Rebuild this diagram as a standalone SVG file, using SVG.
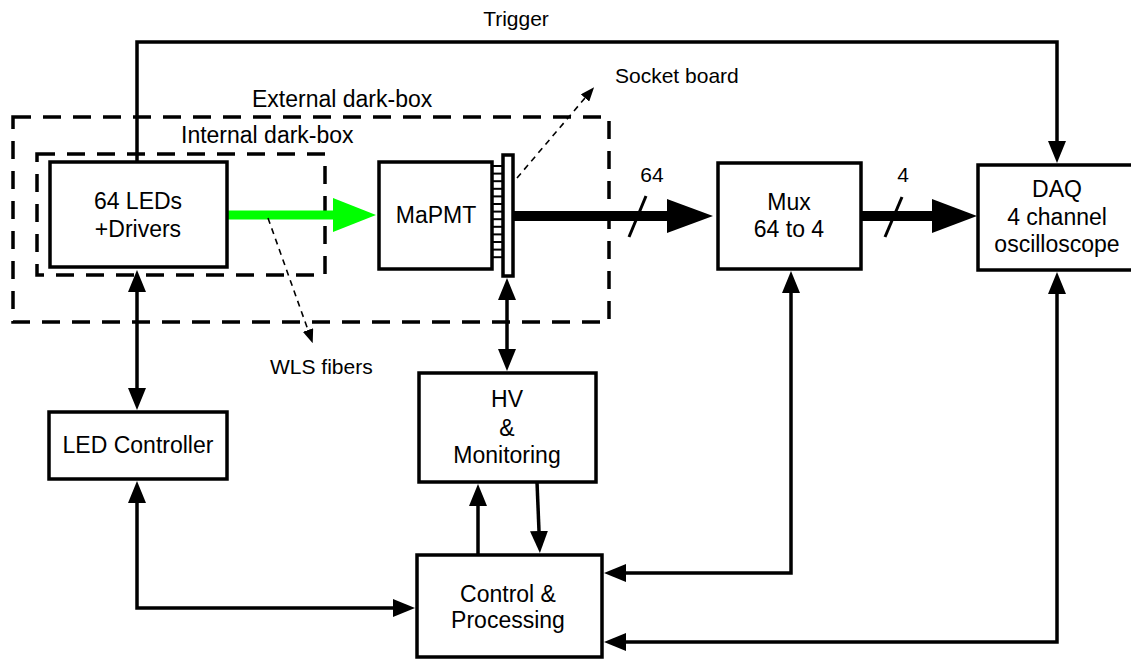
<svg xmlns="http://www.w3.org/2000/svg" width="1131" height="660" viewBox="0 0 1131 660">
<style>
  .box { fill: #fff; stroke: #000; stroke-width: 3.5; }
  .dbox { fill: none; stroke: #000; stroke-width: 3.5; stroke-dasharray: 18 12; }
  .conn { fill: none; stroke: #000; stroke-width: 3.5; }
  .thin { fill: none; stroke: #000; stroke-width: 1.6; stroke-dasharray: 6 5; }
  .t { font-family: "Liberation Sans", Arial, sans-serif; font-size: 23px; fill: #000; text-anchor: middle; }
  .l { font-family: "Liberation Sans", Arial, sans-serif; font-size: 21px; fill: #000; }
  .d { font-family: "Liberation Sans", Arial, sans-serif; font-size: 23px; fill: #000; }
</style>
<defs>
  <marker id="arr" viewBox="0 0 22 18" refX="0" refY="9" markerWidth="22" markerHeight="18" markerUnits="userSpaceOnUse" orient="auto-start-reverse">
    <path d="M0,0 L22,9 L0,18 z" fill="#000"/>
  </marker>
  <marker id="sarr" viewBox="0 0 14 11" refX="0" refY="5.5" markerWidth="14" markerHeight="11" markerUnits="userSpaceOnUse" orient="auto">
    <path d="M0,0 L14,5.5 L0,11 z" fill="#000"/>
  </marker>
</defs>

<g id="external-darkbox">
  <rect class="dbox" x="13" y="117" width="596" height="205"/>
  <text class="d" x="252" y="107">External dark-box</text>
</g>
<g id="internal-darkbox">
  <rect class="dbox" x="37" y="154" width="288" height="121"/>
  <text class="d" x="181" y="143">Internal dark-box</text>
</g>

<g id="connectors">
  <path class="conn" d="M137,162 V42 H1057 V141" marker-end="url(#arr)"/>
  <text class="l" x="516" y="26" text-anchor="middle">Trigger</text>
  <line x1="227" y1="215" x2="334" y2="215" stroke="#00ff00" stroke-width="9"/>
  <polygon points="333,198 376,215 333,232" fill="#00ff00"/>
  <line x1="514" y1="216" x2="668" y2="216" stroke="#000" stroke-width="10"/>
  <polygon points="667,199 713,216 667,233" fill="#000"/>
  <line x1="629" y1="237" x2="646" y2="196" stroke="#000" stroke-width="3"/>
  <text class="l" x="652" y="182" text-anchor="middle">64</text>
  <circle cx="861" cy="216" r="5" fill="#000"/>
  <line x1="861" y1="216" x2="933" y2="216" stroke="#000" stroke-width="10"/>
  <polygon points="932,199 977,216 932,233" fill="#000"/>
  <line x1="885" y1="237" x2="902" y2="197" stroke="#000" stroke-width="3"/>
  <text class="l" x="903" y="182" text-anchor="middle">4</text>
  <line class="conn" x1="137" y1="292" x2="137" y2="388" marker-start="url(#arr)" marker-end="url(#arr)"/>
  <path class="conn" d="M137,503 V608 H393" marker-start="url(#arr)" marker-end="url(#arr)"/>
  <line class="conn" x1="507" y1="300" x2="507" y2="349" marker-start="url(#arr)" marker-end="url(#arr)"/>
  <line class="conn" x1="478" y1="555" x2="478" y2="506" marker-end="url(#arr)"/>
  <line class="conn" x1="537" y1="482" x2="539" y2="531" marker-end="url(#arr)"/>
  <path class="conn" d="M791,293 V573 H626" marker-start="url(#arr)" marker-end="url(#arr)"/>
  <path class="conn" d="M1057,294 V642 H626" marker-start="url(#arr)" marker-end="url(#arr)"/>
  <line class="thin" x1="268" y1="218" x2="308" y2="330" marker-end="url(#sarr)"/>
  <text class="l" x="270" y="374">WLS fibers</text>
  <line class="thin" x1="517" y1="178" x2="585" y2="98" marker-end="url(#sarr)"/>
  <text class="l" x="615" y="83">Socket board</text>
</g>

<g id="leds">
  <rect class="box" x="50" y="162" width="177" height="105"/>
  <text class="t" x="138" y="209">64 LEDs</text>
  <text class="t" x="138" y="237">+Drivers</text>
</g>
<g id="mapmt">
  <rect class="box" x="379" y="162" width="113" height="107"/>
  <text class="t" x="436" y="223">MaPMT</text>
</g>
<g id="socket-board">
  <g stroke="#000" stroke-width="2">
    <line x1="492" y1="166" x2="503" y2="166"/>
    <line x1="492" y1="173.6" x2="503" y2="173.6"/>
    <line x1="492" y1="181.2" x2="503" y2="181.2"/>
    <line x1="492" y1="188.8" x2="503" y2="188.8"/>
    <line x1="492" y1="196.4" x2="503" y2="196.4"/>
    <line x1="492" y1="204" x2="503" y2="204"/>
    <line x1="492" y1="211.6" x2="503" y2="211.6"/>
    <line x1="492" y1="219.2" x2="503" y2="219.2"/>
    <line x1="492" y1="226.8" x2="503" y2="226.8"/>
    <line x1="492" y1="234.4" x2="503" y2="234.4"/>
    <line x1="492" y1="242" x2="503" y2="242"/>
    <line x1="492" y1="249.6" x2="503" y2="249.6"/>
    <line x1="492" y1="257.2" x2="503" y2="257.2"/>
  </g>
  <rect class="box" x="503" y="155" width="10" height="121" stroke-width="3"/>
</g>
<g id="mux">
  <rect class="box" x="718" y="163" width="143" height="106"/>
  <text class="t" x="789" y="210">Mux</text>
  <text class="t" x="789" y="237">64 to 4</text>
</g>
<g id="daq">
  <rect class="box" x="978" y="165" width="170" height="105"/>
  <text class="t" x="1057" y="197">DAQ</text>
  <text class="t" x="1057" y="225">4 channel</text>
  <text class="t" x="1057" y="252">oscilloscope</text>
</g>
<g id="led-controller">
  <rect class="box" x="49" y="412" width="178" height="67"/>
  <text class="t" x="138" y="453">LED Controller</text>
</g>
<g id="hv">
  <rect class="box" x="419" y="373" width="177" height="109"/>
  <text class="t" x="507" y="407">HV</text>
  <text class="t" x="507" y="436">&amp;</text>
  <text class="t" x="507" y="463">Monitoring</text>
</g>
<g id="control">
  <rect class="box" x="417" y="555" width="185" height="102"/>
  <text class="t" x="508" y="602">Control &amp;</text>
  <text class="t" x="508" y="628">Processing</text>
</g>
</svg>
